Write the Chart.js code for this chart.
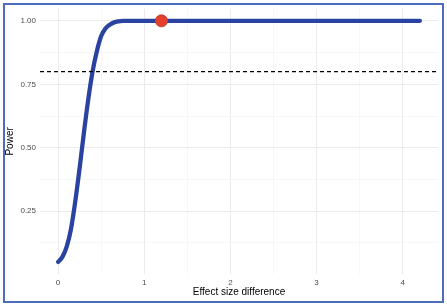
<!DOCTYPE html>
<html>
<head>
<meta charset="utf-8">
<script src="https://cdn.jsdelivr.net/npm/chart.js@4"></script>
<style>
  html, body { margin: 0; padding: 0; background: #fff; }
  #wrap { position: relative; width: 447px; height: 308px; }
  #frame {
    position: absolute; left: 3px; top: 3px; width: 437px; height: 296px;
    border: 2px solid #4c6dbf; pointer-events: none;
  }
</style>
</head>
<body>
<div id="wrap">
  <canvas id="powerChart" width="447" height="308"></canvas>
  <div id="frame"></div>
</div>
<script>
// effect size (x) and power (y)
const effectSize = [0, 0.05, 0.1, 0.15, 0.2, 0.25, 0.3, 0.35, 0.4, 0.45, 0.5, 0.55, 0.6, 0.65, 0.7, 0.75, 0.8, 1.0, 1.5, 2.0, 2.5, 3.0, 3.5, 4.0, 4.2];
const power = [0.05, 0.07, 0.11, 0.18, 0.29, 0.42, 0.56, 0.69, 0.80, 0.88, 0.94, 0.97, 0.985, 0.994, 0.998, 1.0, 1.0, 1.0, 1.0, 1.0, 1.0, 1.0, 1.0, 1.0, 1.0];

const markedX = [1.2];
const markedY = [1.0];

const targetPower = 0.8;

const xTicks = [0, 1, 2, 3, 4];
const yTicks = [0.25, 0.5, 0.75, 1.0];
const xMinor = [0.5, 1.5, 2.5, 3.5];
const yMinor = [0.125, 0.375, 0.625, 0.875];

const curve = effectSize.map((x, i) => ({ x: x, y: power[i] }));
const marked = markedX.map((x, i) => ({ x: x, y: markedY[i] }));

const hline = {
  id: 'hline',
  afterDatasetsDraw(chart) {
    const c = chart.ctx;
    const a = chart.chartArea;
    const y = chart.scales.y.getPixelForValue(targetPower);
    c.save();
    c.strokeStyle = '#000';
    c.lineWidth = 1.2;
    c.setLineDash([4, 3]);
    c.beginPath();
    c.moveTo(a.left, y);
    c.lineTo(a.right, y);
    c.stroke();
    c.restore();
  }
};

function withMinor(major, minor) {
  return major.concat(minor).sort((a, b) => a - b).map(v => ({ value: v, major: major.includes(v) }));
}

const ctx = document.getElementById('powerChart').getContext('2d');

new Chart(ctx, {
  type: 'scatter',
  data: {
    datasets: [
      {
        data: marked,
        showLine: false,
        pointRadius: 6,
        pointBackgroundColor: '#e5402c',
        pointBorderColor: '#c53a2a',
        pointBorderWidth: 1,
        order: 0
      },
      {
        data: curve,
        showLine: true,
        borderColor: '#2a43a0',
        borderWidth: 4.3,
        pointRadius: 0,
        cubicInterpolationMode: 'monotone',
        borderCapStyle: 'round',
        order: 1
      }
    ]
  },
  options: {
    responsive: false,
    animation: false,
    layout: { padding: { left: 4, top: 8, right: 9, bottom: 10 } },
    plugins: {
      legend: { display: false },
      tooltip: { enabled: false }
    },
    scales: {
      x: {
        type: 'linear',
        min: -0.21,
        max: 4.41,
        afterBuildTicks: s => { s.ticks = withMinor(xTicks, xMinor); },
        afterFit: s => { s.height = 24; },
        border: { display: false },
        grid: {
          drawTicks: false,
          color: c => (c.tick && c.tick.major) ? '#ebebeb' : '#f5f5f5',
          lineWidth: c => (c.tick && c.tick.major) ? 1 : 0.8
        },
        ticks: {
          padding: 4,
          color: '#4d4d4d',
          font: { family: 'Liberation Sans', size: 8 },
          maxRotation: 0,
          callback: (v) => xTicks.includes(v) ? String(v) : ''
        },
        title: {
          display: true,
          text: 'Effect size difference',
          color: '#000',
          padding: 0,
          font: { family: 'Liberation Sans', size: 10 }
        }
      },
      y: {
        type: 'linear',
        min: 0.0025,
        max: 1.0475,
        afterBuildTicks: s => { s.ticks = withMinor(yTicks, yMinor); },
        afterFit: s => { s.width = 36; },
        border: { display: false },
        grid: {
          drawTicks: false,
          color: c => (c.tick && c.tick.major) ? '#ebebeb' : '#f5f5f5',
          lineWidth: c => (c.tick && c.tick.major) ? 1 : 0.8
        },
        ticks: {
          padding: 4,
          color: '#4d4d4d',
          font: { family: 'Liberation Sans', size: 8 },
          callback: (v) => yTicks.includes(v) ? v.toFixed(2) : ''
        },
        title: {
          display: true,
          text: 'Power',
          color: '#000',
          padding: 0,
          font: { family: 'Liberation Sans', size: 10 }
        }
      }
    }
  },
  plugins: [hline]
});
</script>
</body>
</html>
